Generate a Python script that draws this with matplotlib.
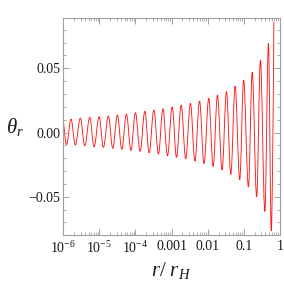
import numpy as np
import matplotlib
matplotlib.use("Agg")
import matplotlib.pyplot as plt
from matplotlib.path import Path
from matplotlib.patches import PathPatch
from matplotlib.ticker import FixedLocator, FixedFormatter, MultipleLocator, LogLocator, NullFormatter

# ---- data: successive extrema of theta_r (start, trough, peak, ...)
log10_r = [-6.000, -5.911, -5.786, -5.667, -5.528, -5.406, -5.267, -5.148, -5.009,
           -4.890, -4.751, -4.629, -4.501, -4.379, -4.251, -4.127, -4.002, -3.871,
           -3.741, -3.621, -3.491, -3.363, -3.241, -3.114, -2.983, -2.864, -2.733,
           -2.608, -2.478, -2.353, -2.225, -2.101, -1.970, -1.848, -1.729, -1.601,
           -1.479, -1.359, -1.240, -1.112, -1.004, -0.871, -0.765, -0.643, -0.538,
           -0.416, -0.316, -0.238, -0.166]
theta_r = [0.0090, -0.00935, 0.01051, -0.00974, 0.01129, -0.01028, 0.01184, -0.01106, 0.01231,
           -0.01153, 0.01285, -0.01231, 0.01363, -0.01308, 0.01441, -0.01394, 0.01542, -0.01464,
           0.01651, -0.01573, 0.01752, -0.01674, 0.01854, -0.01807, 0.01986, -0.01931, 0.02126,
           -0.02048, 0.02274, -0.02220, 0.02453, -0.02414, 0.02671, -0.02632, 0.02921, -0.02921,
           0.03185, -0.03255, 0.03606, -0.03668, 0.04058, -0.04245, 0.04696, -0.05008, 0.05631,
           -0.06145, 0.06947, -0.07664, 0.08606]

x_ticks = [1e-6, 1e-5, 1e-4, 1e-3, 1e-2, 1e-1, 1]
x_tick_labels = [r"$10^{-6}$", r"$10^{-5}$", r"$10^{-4}$", "0.001", "0.01", "0.1", "1"]
y_ticks = [-0.05, 0.0, 0.05]
y_tick_labels = ["\u22120.05", "0.00", "0.05"]

plt.rcParams["font.family"] = ["Liberation Serif", "DejaVu Serif"]
plt.rcParams["mathtext.fontset"] = "custom"
plt.rcParams["mathtext.rm"] = "Liberation Serif"
plt.rcParams["mathtext.it"] = "Liberation Serif:italic"
plt.rcParams["mathtext.bf"] = "Liberation Serif:bold"

fig = plt.figure(figsize=(2.84, 2.82), dpi=100)
ax = fig.add_axes([0.2229, 0.1684, 0.7625, 0.7660])
ax.set_xscale("log")

# smooth curve through the extrema (cubic Bezier segments, flat at extrema)
lx = np.array(log10_r)
th = np.array(theta_r)
verts = [(10 ** lx[0], th[0])]
codes = [Path.MOVETO]
k = 0.3642
n = len(lx)
for i in range(n - 1):
    d = lx[i + 1] - lx[i]
    if i == 0:
        c1 = (lx[0] + d / 3, th[0] + (th[1] - th[0]) / 3)
    else:
        c1 = (lx[i] + k * d, th[i])
    if i == n - 2:
        c2 = (lx[i + 1] - d * 0.2, th[i + 1] - (th[i + 1] - th[i]) * 0.35)
    else:
        c2 = (lx[i + 1] - k * d, th[i + 1])
    verts += [(10 ** c1[0], c1[1]), (10 ** c2[0], c2[1]), (10 ** lx[i + 1], th[i + 1])]
    codes += [Path.CURVE4] * 3
patch = PathPatch(Path(verts, codes), fill=False, edgecolor="#ff1a1a", lw=0.65)
ax.add_patch(patch)

ax.set_xlim(1e-6, 1)
ax.set_ylim(-0.0794, 0.0888)

ax.xaxis.set_major_locator(FixedLocator(x_ticks))
ax.xaxis.set_major_formatter(FixedFormatter(x_tick_labels))
ax.xaxis.set_minor_locator(LogLocator(base=10, subs=np.arange(2, 10), numticks=20))
ax.xaxis.set_minor_formatter(NullFormatter())
ax.yaxis.set_major_locator(FixedLocator(y_ticks))
ax.yaxis.set_major_formatter(FixedFormatter(y_tick_labels))
ax.yaxis.set_minor_locator(MultipleLocator(0.01))

spine_col = "#a0a0a0"
for s in ax.spines.values():
    s.set_color(spine_col)
    s.set_linewidth(0.8)
ax.tick_params(which="both", direction="in", top=True, right=True, color=spine_col,
               labelsize=10, labelcolor="#1a1a1a")
ax.tick_params(which="major", length=4, width=0.7)
ax.tick_params(which="minor", length=2, width=0.6)
ax.tick_params(axis="x", pad=4)
ax.tick_params(axis="y", pad=2)

ax.set_xlabel(r"$r/\ r_H$", fontsize=15, color="#1a1a1a", labelpad=3)
ax.set_ylabel(r"$\theta_r$", fontsize=15, color="#1a1a1a", rotation=0, labelpad=10, va="center")

fig.savefig("out.png", dpi=100)
